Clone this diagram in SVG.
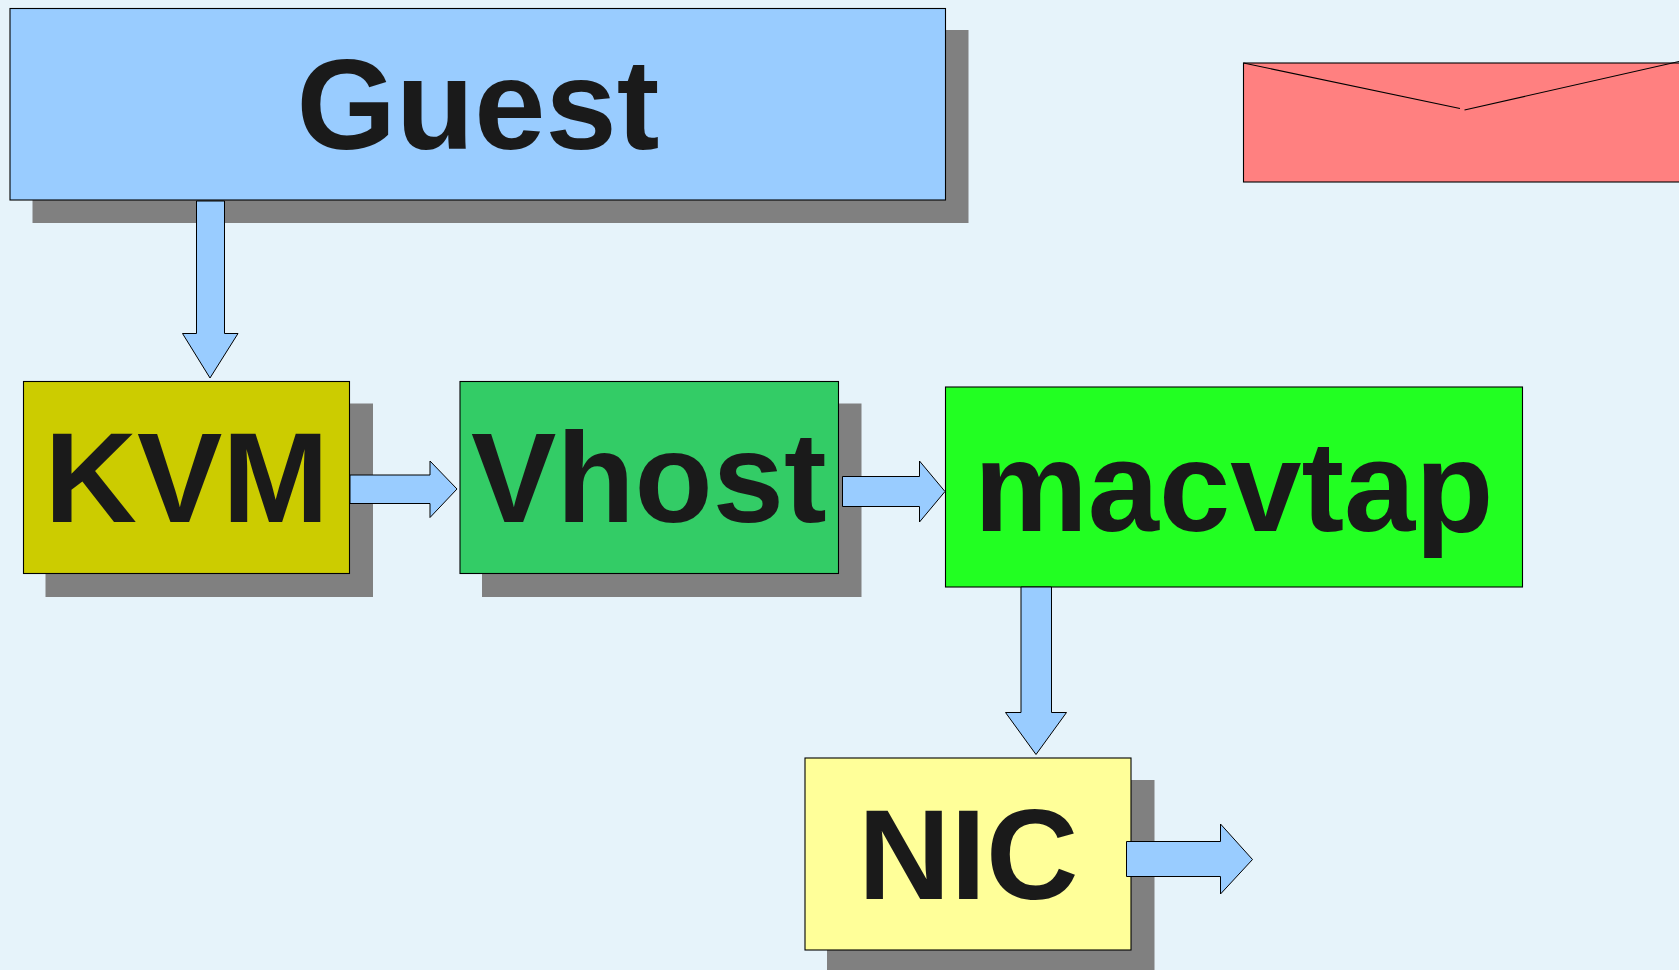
<svg xmlns="http://www.w3.org/2000/svg" width="1679" height="970" viewBox="0 0 1679 970">
<style>
.box{stroke:#000;stroke-width:1.1}
.shadow{fill:#808080}
.label{font-family:"Liberation Sans",Arial,sans-serif;font-weight:700;font-size:128px;fill:#1a1a1a}
.arrow{fill:#99ccff;stroke:#000;stroke-width:1;stroke-linejoin:miter}
.line{fill:none;stroke:#000;stroke-width:1.1}
</style>
<rect width="1679" height="970" fill="#e6f3fa"/>
<g id="guest">
<rect class="shadow" x="32.500" y="30" width="936" height="193"/>
<rect class="box" x="10" y="8.5" width="935.500" height="191.500" fill="#99ccff"/>
<text class="label" x="296.500" y="149">Guest</text>
</g>
<g id="kvm">
<rect class="shadow" x="45.500" y="403.500" width="327.500" height="193.500"/>
<rect class="box" x="23.500" y="381.500" width="326" height="192" fill="#cccc00"/>
<text class="label" x="44.500" y="522">KVM</text>
</g>
<g id="vhost">
<rect class="shadow" x="482" y="403.500" width="379.500" height="193.500"/>
<rect class="box" x="460" y="381.500" width="378.500" height="192" fill="#33cc66"/>
<text class="label" x="471" y="522">Vhost</text>
</g>
<g id="macvtap">
<rect class="box" x="945.500" y="387" width="577" height="200" fill="#22ff22"/>
<text class="label" x="974" y="531">macvtap</text>
</g>
<g id="nic">
<rect class="shadow" x="827" y="780" width="327.500" height="190"/>
<rect class="box" x="805" y="758" width="326" height="192" fill="#ffff99"/>
<text class="label" x="858" y="898.500">NIC</text>
</g>
<g id="envelope">
<rect class="box" x="1243.500" y="63" width="440" height="119" fill="#ff8080"/>
<path class="line" d="M1243.500 63L1460 108.500M1464.500 110L1679 61.500"/>
</g>
<g id="connectors">
<path class="arrow" d="M196.500 201H224.500V333.500H238L210 378L182.500 333.500H196.500Z"/>
<path class="arrow" d="M350 475H430V461L457 489L430 517.500V503.500H350Z"/>
<path class="arrow" d="M842.500 476.500H919.500V461L945 491.500L919.500 522V506.500H842.500Z"/>
<path class="arrow" d="M1021 587H1051.500V712.500H1066.500L1036 754.500L1005.500 712.500H1021Z"/>
<path class="arrow" d="M1126.500 841.500H1220.500V824L1252.500 859.500L1220.500 894V876.500H1126.500Z"/>
</g>
</svg>
